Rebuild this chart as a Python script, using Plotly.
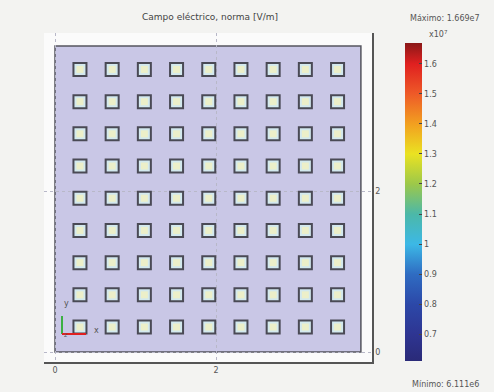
import plotly.graph_objects as go

# ---- data ----
title_text = "Campo eléctrico, norma [V/m]"
field_min = 0.6111   # x1e7 V/m
field_max = 1.669    # x1e7 V/m
cbar_ticks = [0.7, 0.8, 0.9, 1.0, 1.1, 1.2, 1.3, 1.4, 1.5, 1.6]
cbar_ticklabels = ["0.7", "0.8", "0.9", "1", "1.1", "1.2", "1.3", "1.4", "1.5", "1.6"]
domain_x = [0.0, 3.8]
domain_y = [0.0, 3.8]
col_centers = [0.31, 0.71, 1.11, 1.51, 1.91, 2.31, 2.71, 3.11, 3.51]
row_centers = [0.31, 0.71, 1.11, 1.51, 1.91, 2.31, 2.71, 3.11, 3.51]
axis_ticks = [0, 2]
axis_ticklabels = ["0", "2"]

colorscale = [
    [0.000, "#2a2a78"],
    [0.084, "#2e3592"],
    [0.178, "#2c48a8"],
    [0.273, "#2f6cc2"],
    [0.367, "#3cb8e6"],
    [0.462, "#4cb8a8"],
    [0.556, "#9cc84a"],
    [0.651, "#eae222"],
    [0.745, "#f2a020"],
    [0.840, "#ee5a28"],
    [0.934, "#e02020"],
    [1.000, "#8a1818"],
]

xs = [cx for cy in row_centers for cx in col_centers]
ys = [cy for cy in row_centers for cx in col_centers]

# plot area in page pixels
PL, PR, PT, PB = 44, 372, 33, 362
PW, PH = PR - PL, PB - PT


def px(xp):
    return (xp - PL) / PW


def py(yp):
    return (PB - yp) / PH


fig = go.Figure()

# squares (outer, bluish pastel with dark outline)
fig.add_trace(go.Scatter(
    x=xs, y=ys, mode="markers", hoverinfo="skip", showlegend=False,
    marker=dict(symbol="square", size=13, color="#d3e9ee",
                line=dict(color="#4a4a55", width=2)),
))
# squares inner (yellowish pastel)
fig.add_trace(go.Scatter(
    x=xs, y=ys, mode="markers", hoverinfo="skip", showlegend=False,
    marker=dict(symbol="square", size=7, color="#eef0c4", opacity=0.9,
                line=dict(width=0)),
))
# colorbar carrier
fig.add_trace(go.Scatter(
    x=[domain_x[0], domain_x[0]], y=[domain_y[0], domain_y[0]], mode="markers",
    hoverinfo="skip", showlegend=False,
    marker=dict(size=1, opacity=0, color=[field_min, field_max],
                cmin=field_min, cmax=field_max, colorscale=colorscale,
                showscale=True,
                colorbar=dict(
                    x=px(405), xanchor="left", xpad=0, ypad=0,
                    y=py(202), yanchor="middle", len=318 / PH, lenmode="fraction",
                    thickness=17, outlinewidth=0,
                    tickvals=cbar_ticks, ticktext=cbar_ticklabels,
                    ticks="inside", ticklen=3, tickcolor="#444",
                    tickfont=dict(family="DejaVu Sans", size=8, color="#555"),
                )),
))

# domain rectangle
fig.add_shape(type="rect", xref="x", yref="y",
              x0=domain_x[0], x1=domain_x[1], y0=domain_y[0], y1=domain_y[1],
              fillcolor="#c9c7e6", line=dict(color="#55555f", width=1.5),
              layer="below")

# axis triad (bottom-left)
fig.add_shape(type="line", xref="paper", yref="paper",
              x0=px(62), x1=px(62), y0=py(334), y1=py(316),
              line=dict(color="#3cb043", width=2))
fig.add_shape(type="line", xref="paper", yref="paper",
              x0=px(62), x1=px(86), y0=py(334), y1=py(334),
              line=dict(color="#e02020", width=2))

ann_font = dict(family="DejaVu Sans", size=8, color="#555")
fig.add_annotation(x=px(62), y=py(310), xref="paper", yref="paper",
                   text="y", showarrow=False, font=ann_font)
fig.add_annotation(x=px(92), y=py(337), xref="paper", yref="paper",
                   text="x", showarrow=False, font=ann_font)
fig.add_annotation(x=px(62), y=py(340), xref="paper", yref="paper",
                   text="z", showarrow=False, font=dict(family="DejaVu Sans", size=6, color="#555"))

# colorbar texts
fig.add_annotation(x=px(445), y=py(19), xref="paper", yref="paper",
                   text="Máximo: 1.669e7", showarrow=False,
                   font=dict(family="DejaVu Sans", size=8, color="#555"),
                   xanchor="center", yanchor="middle")
fig.add_annotation(x=px(445), y=py(384), xref="paper", yref="paper",
                   text="Mínimo: 6.111e6", showarrow=False,
                   font=dict(family="DejaVu Sans", size=8, color="#555"),
                   xanchor="center", yanchor="middle")
fig.add_annotation(x=px(427), y=py(34), xref="paper", yref="paper",
                   text="x10<sup>7</sup>", showarrow=False,
                   font=dict(family="DejaVu Sans", size=8, color="#555"),
                   xanchor="left", yanchor="middle")

px_per_unit = 80.5
fig.update_layout(
    width=494, height=392,
    margin=dict(l=PL, r=494 - PR, t=PT, b=392 - PB, pad=0),
    paper_bgcolor="#f3f3f1",
    plot_bgcolor="#fbfbfb",
    title=dict(text=title_text, x=210/494, xanchor="center", y=1-17/392, yanchor="middle",
               font=dict(family="DejaVu Sans", size=9, color="#444")),
    xaxis=dict(range=[-11/px_per_unit, (372-55)/px_per_unit], showline=True, linecolor="#555",
               linewidth=1.5, mirror=False, side="bottom",
               tickvals=axis_ticks, ticktext=axis_ticklabels, ticks="",
               tickfont=dict(family="DejaVu Sans", size=8, color="#555"),
               showgrid=True, gridcolor="#b8b8c8", griddash="dot", gridwidth=1,
               zeroline=False, fixedrange=True),
    yaxis=dict(range=[-10/px_per_unit, (352-33)/px_per_unit], showline=True, linecolor="#555",
               linewidth=1.5, mirror=False, side="right",
               tickvals=axis_ticks, ticktext=axis_ticklabels, ticks="",
               tickfont=dict(family="DejaVu Sans", size=8, color="#555"),
               showgrid=True, gridcolor="#b8b8c8", griddash="dot", gridwidth=1,
               zeroline=False, fixedrange=True),
)

fig.write_html("out.html")
